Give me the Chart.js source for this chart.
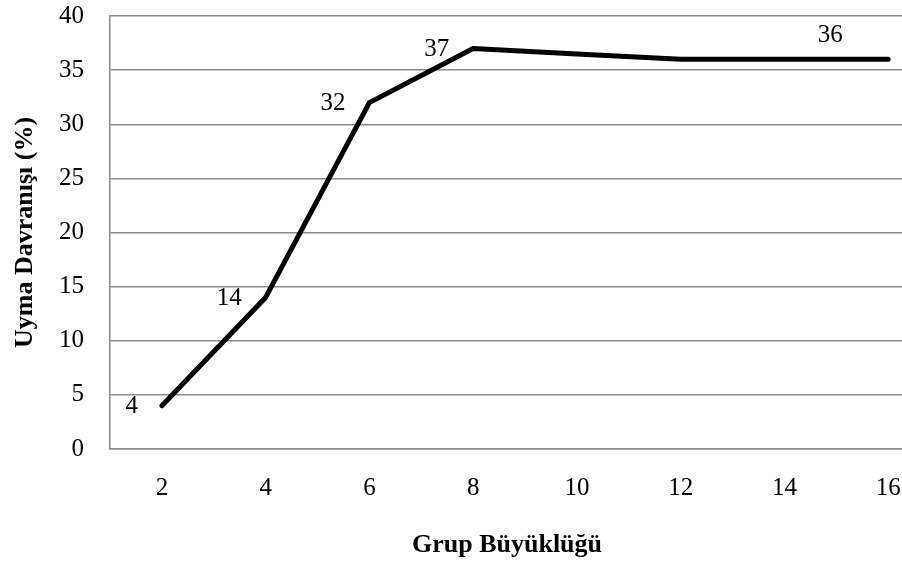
<!DOCTYPE html>
<html lang="tr">
  <head>
    <meta charset="UTF-8" />
    <title>Grup Büyüklüğü ve Uyma Davranışı</title>
    <script src="https://cdn.jsdelivr.net/npm/chart.js"></script>
    <style>
      html, body { margin: 0; padding: 0; overflow: hidden; background: #fff; }
      /* grafik pencereden biraz daha geniş, sağ taraf kesik görünüyor */
      .kutu { width: 950px; height: 563px; }
    </style>
  </head>
  <body>
    <div class="kutu">
      <canvas id="grafik"></canvas>
    </div>

    <script>
      // veriler
      const grupBuyuklugu = ["2", "4", "6", "8", "10", "12", "14", "16"]
      const uymaYuzdesi = [4, 14, 32, 37, 36.5, 36, 36, 36]
      const etiketler = ["4", "14", "32", "37", "", "", "", "36"]
      const yEkseniTikleri = [0, 5, 10, 15, 20, 25, 30, 35, 40]

      const yazi = "'Liberation Serif', 'Times New Roman', serif"

      // nokta etiketleri (noktanın soluna yazılıyor, sonuncusu yukarı kaydırılmış)
      const etiketEklentisi = {
        id: "etiketler",
        afterDatasetsDraw(chart) {
          const ctx = chart.ctx
          const meta = chart.getDatasetMeta(0)
          ctx.save()
          ctx.font = "25px " + yazi
          ctx.fillStyle = "#000"
          ctx.textBaseline = "middle"
          for (let i = 0; i < meta.data.length; i++) {
            if (!etiketler[i]) continue
            const p = meta.data[i]
            if (i === meta.data.length - 1) {
              ctx.textAlign = "center"
              ctx.fillText(etiketler[i], p.x - 58, p.y - 24)
            } else {
              ctx.textAlign = "right"
              ctx.fillText(etiketler[i], p.x - 24, p.y + 1)
            }
          }
          ctx.restore()
        }
      }

      // x ekseni başlığı (orijinalde tüm grafiğe göre ortalı)
      const xBaslikEklentisi = {
        id: "xBaslik",
        afterDraw(chart) {
          const ctx = chart.ctx
          ctx.save()
          ctx.font = "bold 26px " + yazi
          ctx.fillStyle = "#000"
          ctx.textAlign = "center"
          ctx.textBaseline = "middle"
          ctx.fillText("Grup Büyüklüğü", 507, 545)
          ctx.restore()
        }
      }

      new Chart(document.getElementById("grafik"), {
        type: "line",
        data: {
          labels: grupBuyuklugu,
          datasets: [
            {
              label: "Uyma Davranışı",
              data: uymaYuzdesi,
              borderColor: "#000",
              borderWidth: 5,
              borderCapStyle: "round",
              borderJoinStyle: "round",
              tension: 0,
              pointRadius: 0,
              fill: false
            }
          ]
        },
        options: {
          responsive: true,
          maintainAspectRatio: false,
          animation: false,
          layout: { padding: { top: 16, right: 10, bottom: 0, left: 0 } },
          plugins: {
            legend: { display: false },
            tooltip: { enabled: false }
          },
          scales: {
            x: {
              offset: true,
              grid: { display: false, drawTicks: false },
              border: { display: true, color: "#8c8c8c", width: 1.5 },
              ticks: { color: "#000", font: { family: yazi, size: 25 }, padding: 24, maxRotation: 0 },
              afterFit(scale) { scale.height = 114 }
            },
            y: {
              min: 0,
              max: 40,
              afterBuildTicks(scale) {
                scale.ticks = yEkseniTikleri.map(function (v) { return { value: v } })
              },
              grid: { color: "#8c8c8c", lineWidth: 1.5, drawTicks: false },
              border: { display: true, color: "#8c8c8c", width: 1.5 },
              ticks: { color: "#000", font: { family: yazi, size: 25 }, padding: 26 },
              title: {
                display: true,
                text: "Uyma Davranışı (%)",
                color: "#000",
                font: { family: yazi, size: 26, weight: "bold" },
                padding: { top: 10, bottom: 0 }
              },
              afterFit(scale) {
                scale.width = 110
                scale.paddingTop = 0
                scale.paddingBottom = 0
              }
            }
          }
        },
        plugins: [etiketEklentisi, xBaslikEklentisi]
      })
    </script>
  </body>
</html>
